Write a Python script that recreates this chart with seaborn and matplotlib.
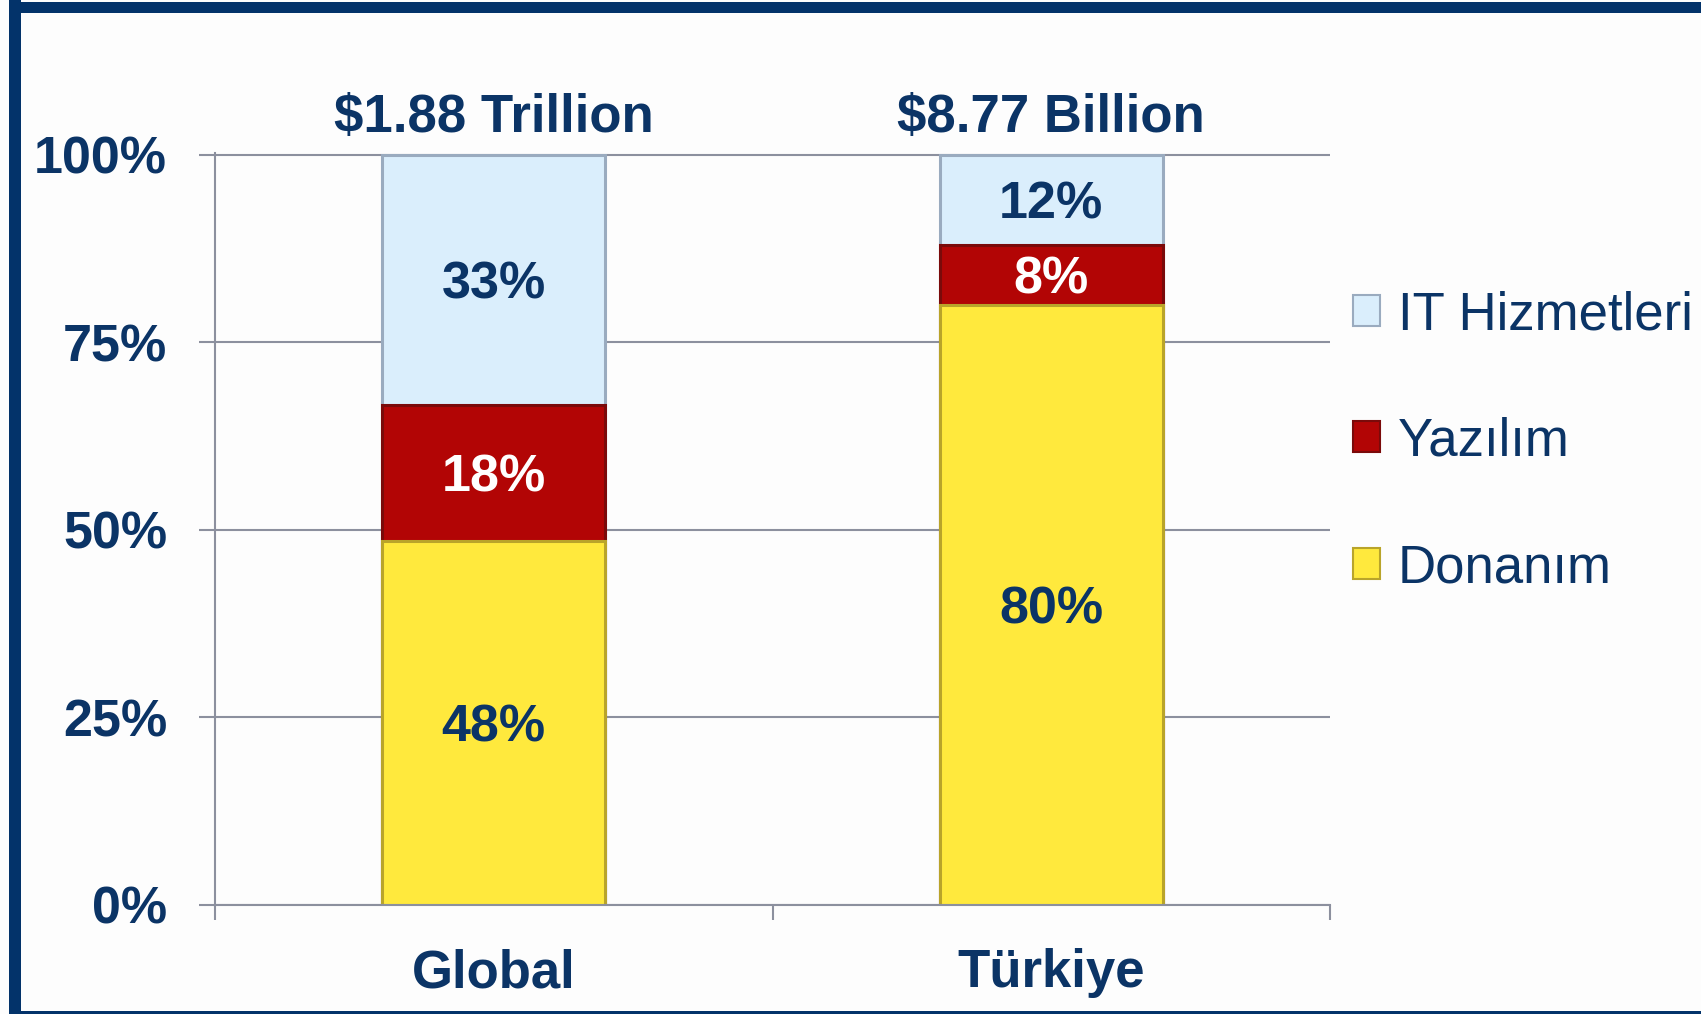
import matplotlib
matplotlib.use("Agg")
import matplotlib.pyplot as plt
from matplotlib.patches import Patch, Rectangle
import numpy as np
import pandas as pd
import seaborn as sns

# ---- data ----
categories = ["Global", "Türkiye"]
donanim = [48, 80]
yazilim = [18, 8]
it_hizmetleri = [33, 12]
totals = ["$1.88 Trillion", "$8.77 Billion"]
series_names = ["IT Hizmetleri", "Yazılım", "Donanım"]
y_ticks = [0, 25, 50, 75, 100]
y_tick_labels = ["0%", "25%", "50%", "75%", "100%"]

NAVY = "#0b3466"
GRID = "#8c909e"
C_IT, E_IT = "#daeefc", "#9aabbf"
C_YZ, E_YZ = "#b20505", "#7a0a0a"
C_DN, E_DN = "#ffe93d", "#b9a42a"

sns.set_theme(style="white")
plt.rcParams["font.family"] = ["Liberation Sans", "DejaVu Sans"]

df = pd.DataFrame({"cat": categories, "dn": donanim, "yz": yazilim, "it": it_hizmetleri})
tot = df[["dn", "yz", "it"]].sum(axis=1)
df["dn_s"] = df["dn"] / tot * 100
df["yz_s"] = df["yz"] / tot * 100
df["it_s"] = df["it"] / tot * 100
df["lvl1"] = df["dn_s"]
df["lvl2"] = df["dn_s"] + df["yz_s"]
df["lvl3"] = df["lvl2"] + df["it_s"]

fig = plt.figure(figsize=(17.01, 10.14), dpi=100, facecolor="#fdfdfd")
ax = fig.add_axes([215 / 1701, 109 / 1014, 1115 / 1701, 752 / 1014])
ax.set_facecolor("#fdfdfd")

ax.yaxis.grid(True, color=GRID, linewidth=1.5)
ax.set_axisbelow(True)

for col, fc, ec in [("lvl3", C_IT, E_IT), ("lvl2", C_YZ, E_YZ), ("lvl1", C_DN, E_DN)]:
    sns.barplot(data=df, x="cat", y=col, order=categories, color=fc, saturation=1,
                width=0.4, edgecolor=ec, linewidth=2.2, ax=ax, errorbar=None)

# segment labels
for i in range(len(categories)):
    segs = [(0, df["lvl1"][i], df["dn"][i], NAVY),
            (df["lvl1"][i], df["lvl2"][i], df["yz"][i], "white"),
            (df["lvl2"][i], df["lvl3"][i], df["it"][i], NAVY)]
    for lo, hi, v, c in segs:
        ax.text(i, (lo + hi) / 2 - 0.7, f"{v}%", ha="center", va="center",
                fontsize=37.5, fontweight="bold", color=c)
    ax.text(i, 104.9, totals[i], ha="center", va="center", fontsize=38,
            fontweight="bold", color=NAVY, clip_on=False)

ax.set_ylim(0, 100.2)
ax.set_xlim(-0.5, 1.5)
ax.set_yticks(y_ticks)
ax.set_yticklabels(y_tick_labels)
ax.set_xticks(range(len(categories)))
ax.set_xticklabels(categories)
ax.set_xticks([-0.5, 0.5, 1.5], minor=True)
ax.set_xlabel("")
ax.set_ylabel("")

for lbl in ax.get_yticklabels():
    lbl.set_fontweight("bold")
    lbl.set_fontsize(37.5)
    lbl.set_color(NAVY)
for lbl in ax.get_xticklabels():
    lbl.set_fontweight("bold")
    lbl.set_fontsize(38)
    lbl.set_color(NAVY)

ax.tick_params(axis="y", which="major", left=True, length=11.5, width=1.5, color=GRID, pad=23)
ax.tick_params(axis="x", which="major", bottom=True, length=0, pad=31)
ax.tick_params(axis="x", which="minor", bottom=True, length=11, width=1.5, color=GRID)

for s in ["top", "right"]:
    ax.spines[s].set_visible(False)
for s in ["left", "bottom"]:
    ax.spines[s].set_color(GRID)
    ax.spines[s].set_linewidth(1.5)

handles = [Patch(facecolor=C_IT, edgecolor=E_IT, linewidth=1.5),
           Patch(facecolor=C_YZ, edgecolor=E_YZ, linewidth=1.5),
           Patch(facecolor=C_DN, edgecolor=E_DN, linewidth=1.5)]
leg = fig.legend(handles, series_names, loc="upper left",
                 bbox_to_anchor=(1353 / 1701, 1 - 290 / 1014), frameon=False,
                 fontsize=38, borderpad=0, borderaxespad=0,
                 handlelength=0.52, handleheight=0.52, handletextpad=0.33,
                 labelspacing=1.45)
for t in leg.get_texts():
    t.set_color(NAVY)

# frame border
W, H = 1701, 1014
fig.patches.append(Rectangle((9 / W, 0), 12 / W, 1, transform=fig.transFigure,
                             facecolor="#03336a", edgecolor="none"))
fig.patches.append(Rectangle((9 / W, 1 - 13 / H), 1, 11 / H, transform=fig.transFigure,
                             facecolor="#03336a", edgecolor="none"))
fig.patches.append(Rectangle((9 / W, 0), 1, 3 / H, transform=fig.transFigure,
                             facecolor="#03336a", edgecolor="none"))

fig.savefig("out.png", dpi=100, facecolor=fig.get_facecolor())
